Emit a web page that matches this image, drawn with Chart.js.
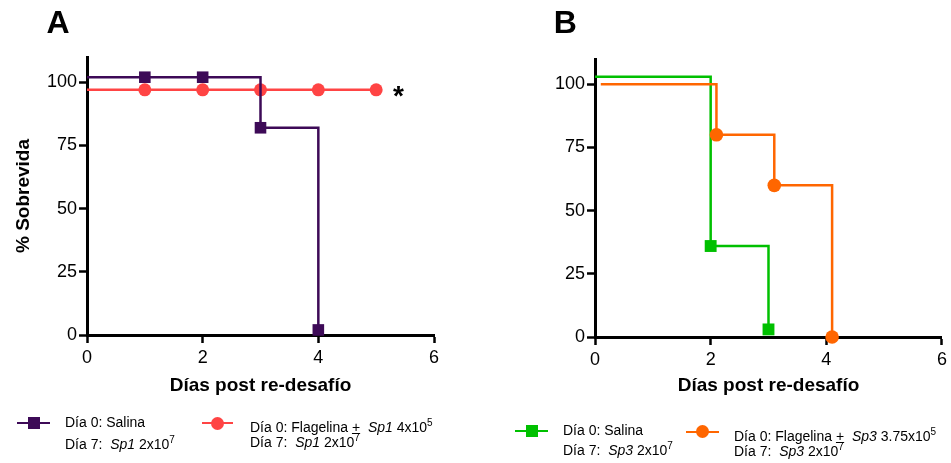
<!DOCTYPE html>
<html>
<head>
<meta charset="utf-8">
<script src="https://cdn.jsdelivr.net/npm/chart.js@4"></script>
<style>
  html, body { margin: 0; padding: 0; background: #fff; }
  #wrap { position: relative; width: 951px; height: 463px; overflow: hidden; font-family: Arial, "Liberation Sans", Helvetica, sans-serif; color: #000; }
  canvas { position: absolute; top: 0; }
  .panel { position: absolute; font-weight: bold; font-size: 32px; line-height: 32px; }
  .star { position: absolute; font-weight: bold; font-size: 28px; line-height: 28px; }
  .lg { position: absolute; font-size: 14px; line-height: 14px; white-space: pre; }
  .sup { font-size: 10px; position: relative; top: -6px; }
  .ln { position: absolute; height: 2.5px; }
  .mk { position: absolute; }
</style>
</head>
<body>
<div id="wrap">
  <canvas id="cA" width="475" height="420" style="left:0px;width:475px;height:420px"></canvas>
  <canvas id="cB" width="475" height="420" style="left:476px;width:475px;height:420px"></canvas>

  <div class="panel" style="left:46.5px;top:5.8px">A</div>
  <div class="panel" style="left:553.7px;top:5.8px">B</div>
  <div class="star" style="left:393px;top:82px">*</div>

  <!-- Legend A -->
  <div class="ln" style="left:17px;width:33px;top:421.5px;background:#3d0a57"></div>
  <div class="mk" style="left:27.5px;top:416.7px;width:12px;height:12px;background:#3d0a57"></div>
  <div class="lg" style="left:65px;top:414.9px">Día 0: Salina</div>
  <div class="lg" style="left:65px;top:436.5px">Día 7:  <i>Sp1</i> 2x10<span class="sup">7</span></div>

  <div class="ln" style="left:202px;width:31px;top:421.8px;background:#ff4444"></div>
  <div class="mk" style="left:211px;top:416.5px;width:13px;height:13px;border-radius:50%;background:#ff4444"></div>
  <div class="lg" style="left:250px;top:419.9px">Día 0: Flagelina <u>+</u>  <i>Sp1</i> 4x10<span class="sup">5</span></div>
  <div class="lg" style="left:250px;top:434.9px">Día 7:  <i>Sp1</i> 2x10<span class="sup">7</span></div>

  <!-- Legend B -->
  <div class="ln" style="left:515px;width:33px;top:429.5px;background:#00c000"></div>
  <div class="mk" style="left:525.5px;top:424.7px;width:12px;height:12px;background:#00c000"></div>
  <div class="lg" style="left:563px;top:423.2px">Día 0: Salina</div>
  <div class="lg" style="left:563px;top:443.2px">Día 7:  <i>Sp3</i> 2x10<span class="sup">7</span></div>

  <div class="ln" style="left:686px;width:33px;top:430.5px;background:#ff6600"></div>
  <div class="mk" style="left:696px;top:425.2px;width:13px;height:13px;border-radius:50%;background:#ff6600"></div>
  <div class="lg" style="left:734px;top:428.9px">Día 0: Flagelina <u>+</u>  <i>Sp3</i> 3.75x10<span class="sup">5</span></div>
  <div class="lg" style="left:734px;top:444.2px">Día 7:  <i>Sp3</i> 2x10<span class="sup">7</span></div>
</div>

<script>
// ---- data ----
const xTicks = [0, 2, 4, 6];
const yTicks = [0, 25, 50, 75, 100];

// Panel A
const salinaA_days = [0, 1, 2, 3, 4];
const salinaA_surv = [102, 102, 102, 82, 2];
const flagA_days = [0, 1, 2, 3, 4, 5];
const flagA_surv = [97, 97, 97, 97, 97, 97];

// Panel B
const salinaB_days = [0, 2, 3];
const salinaB_surv = [103, 36, 3];
const flagB_days = [0.1, 2.1, 3.1, 4.1];
const flagB_surv = [100, 80, 60, 0];

const xTitle = 'Días post re-desafío';
const yTitle = '% Sobrevida';

// ---- helpers ----
Chart.defaults.font.family = 'Arial, "Liberation Sans", Helvetica, sans-serif';
Chart.defaults.color = '#000';

function pts(xs, ys) { return xs.map((x, i) => ({ x: x, y: ys[i] })); }
function radii(n, r) { return Array.from({ length: n }, (_, i) => (i === 0 ? 0 : r)); }

function series(xs, ys, color, style, r) {
  return {
    data: pts(xs, ys),
    showLine: true,
    stepped: 'before',
    borderColor: color,
    backgroundColor: color,
    borderWidth: 2.5,
    borderJoinStyle: 'miter',
    pointStyle: style,
    pointRadius: radii(xs.length, r),
    pointHoverRadius: radii(xs.length, r),
    pointBackgroundColor: color,
    pointBorderColor: color,
    pointBorderWidth: 0,
    fill: false,
    tension: 0,
    clip: false
  };
}

function makeChart(id, datasets, yAxisWidth, showYTitle, padRight, padTop, bottomPx) {
  const H = 420;
  return new Chart(document.getElementById(id), {
    type: 'scatter',
    data: { datasets: datasets },
    options: {
      responsive: false,
      animation: false,
      devicePixelRatio: 1,
      layout: { padding: { left: 0, right: padRight, top: padTop, bottom: 0 } },
      plugins: { legend: { display: false }, tooltip: { enabled: false } },
      scales: {
        x: {
          type: 'linear', min: 0, max: 6,
          afterBuildTicks: (ax) => { ax.ticks = xTicks.map(v => ({ value: v })); },
          afterFit: (ax) => { ax.height = H - bottomPx; },
          ticks: { font: { size: 18 }, padding: 4, color: '#000' },
          grid: { display: true, drawOnChartArea: false, drawTicks: true, tickLength: 8, tickWidth: 2.5, tickColor: '#000', color: '#000' },
          border: { display: true, color: '#000', width: 3 },
          title: { display: true, text: xTitle, font: { size: 19, weight: 'bold' }, color: '#000', padding: { top: 0, bottom: 22.6 } }
        },
        y: {
          type: 'linear', min: 0, max: 110,
          afterBuildTicks: (ax) => { ax.ticks = yTicks.map(v => ({ value: v })); },
          afterFit: (ax) => { ax.width = yAxisWidth; },
          ticks: { font: { size: 18 }, padding: 2, color: '#000' },
          grid: { display: true, drawOnChartArea: false, drawTicks: true, tickLength: 8, tickWidth: 2.5, tickColor: '#000', color: '#000' },
          border: { display: true, color: '#000', width: 3 },
          title: { display: showYTitle, text: yTitle, font: { size: 19, weight: 'bold' }, color: '#000', padding: { top: 12, bottom: 0 } }
        }
      }
    }
  });
}

makeChart('cA', [
  series(salinaA_days, salinaA_surv, '#3d0a57', 'rect', 8.2),
  series(flagA_days, flagA_surv, '#ff4444', 'circle', 6.5)
], 87, true, 41, 57, 335);

makeChart('cB', [
  series(flagB_days, flagB_surv, '#ff6600', 'circle', 6.8),
  series(salinaB_days, salinaB_surv, '#00c000', 'rect', 8.4)
], 119, false, 9, 59, 337);
</script>
</body>
</html>
